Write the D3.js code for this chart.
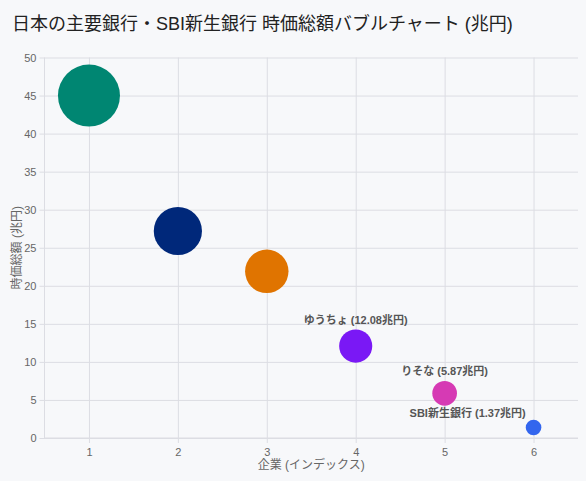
<!DOCTYPE html>
<html><head><meta charset="utf-8">
<script src="https://cdn.jsdelivr.net/npm/d3@7"></script>
<style>
html,body{margin:0;padding:0;background:#f7f8fa;}
svg{display:block;font-family:"Liberation Sans","Noto Sans CJK JP",Arial,sans-serif;}
</style></head>
<body><svg id="chart" width="586" height="481"></svg>
<script>
const banks = ["三菱UFJ", "三井住友", "みずほ", "ゆうちょ", "りそな", "SBI新生銀行"];
const indexes = [1, 2, 3, 4, 5, 6];
const marketCaps = [45.0, 27.2, 21.9, 12.08, 5.87, 1.37];
const colors = ["#008672", "#00287a", "#e07400", "#7a18f5", "#d63ab4", "#3366ee"];
const yTicks = [0, 5, 10, 15, 20, 25, 30, 35, 40, 45, 50];
const xTicks = [1, 2, 3, 4, 5, 6];
const labelThreshold = 15;

(function () {
const svg = d3.select("#chart");
const pL = 44.5, pR = 578, pT = 57.5, pB = 438;
const x = d3.scaleLinear().domain([0.5, 6.5]).range([pL, pR]);
const y = d3.scaleLinear().domain([0, 50]).range([pB, pT]);
const r = d3.scalePow().exponent(0.6).domain(d3.extent(marketCaps)).range([7.8, 31]);
const grid = "#dcdde3";

svg.append("text").attr("x", 12).attr("y", 30).attr("font-size", 18).attr("fill", "#222")
  .text("日本の主要銀行・SBI新生銀行 時価総額バブルチャート (兆円)");

const yAxis = d3.axisLeft(y).tickValues(yTicks).tickFormat(d3.format("d")).tickSize(pR - pL).tickPadding(6);
const gy = svg.append("g").attr("transform", `translate(${pR},0)`).call(yAxis);
gy.select(".domain").remove();
gy.selectAll(".tick line").attr("stroke", grid).attr("x1", -(pR - pL) - 5).attr("x2", 0);
gy.selectAll(".tick text").attr("x", -(pR - pL) - 8).attr("fill", "#666").attr("font-size", 11)
  .attr("font-family", "Liberation Sans, Arial, sans-serif");

const xAxis = d3.axisBottom(x).tickValues(xTicks).tickFormat(d3.format("d")).tickSize(pB - pT).tickPadding(6);
const gx = svg.append("g").attr("transform", `translate(0,${pT})`).call(xAxis);
gx.select(".domain").remove();
gx.selectAll(".tick line").attr("stroke", grid).attr("y1", 0).attr("y2", pB - pT + 5);
gx.selectAll(".tick text").attr("y", pB - pT + 10).attr("fill", "#666").attr("font-size", 11)
  .attr("font-family", "Liberation Sans, Arial, sans-serif");

svg.append("line").attr("x1", pL).attr("x2", pL).attr("y1", pT).attr("y2", pB).attr("stroke", grid);
svg.append("line").attr("x1", pL).attr("x2", pR).attr("y1", pB).attr("y2", pB).attr("stroke", grid);

svg.append("text").attr("x", (pL + pR) / 2).attr("y", 469).attr("text-anchor", "middle")
  .attr("font-size", 12).attr("fill", "#666").text("企業 (インデックス)");
svg.append("text").attr("transform", `translate(21,${(pT + pB) / 2}) rotate(-90)`).attr("text-anchor", "middle")
  .attr("font-size", 12).attr("fill", "#666").text("時価総額 (兆円)");

const data = banks.map((b, i) => ({ name: b, idx: indexes[i], v: marketCaps[i], c: colors[i] }));

svg.append("g").selectAll("circle").data(data).join("circle")
  .attr("cx", d => x(d.idx)).attr("cy", d => y(d.v)).attr("r", d => r(d.v)).attr("fill", d => d.c);

const lg = svg.append("g");
data.filter(d => d.v < labelThreshold).forEach(d => {
  const t = lg.append("text").attr("font-size", 11).attr("font-weight", "bold").attr("fill", "#555")
    .text(`${d.name} (${d.v.toFixed(2)}兆円)`);
  const w = t.node().getComputedTextLength();
  const cx = x(d.idx), cy = y(d.v), rr = r(d.v);
  if (cx + w / 2 > pR) {
    t.attr("x", cx - rr).attr("y", cy - rr - 3).attr("text-anchor", "end");
  } else {
    t.attr("x", cx).attr("y", cy - rr - 6).attr("text-anchor", "middle");
  }
});
})();
</script></body></html>
